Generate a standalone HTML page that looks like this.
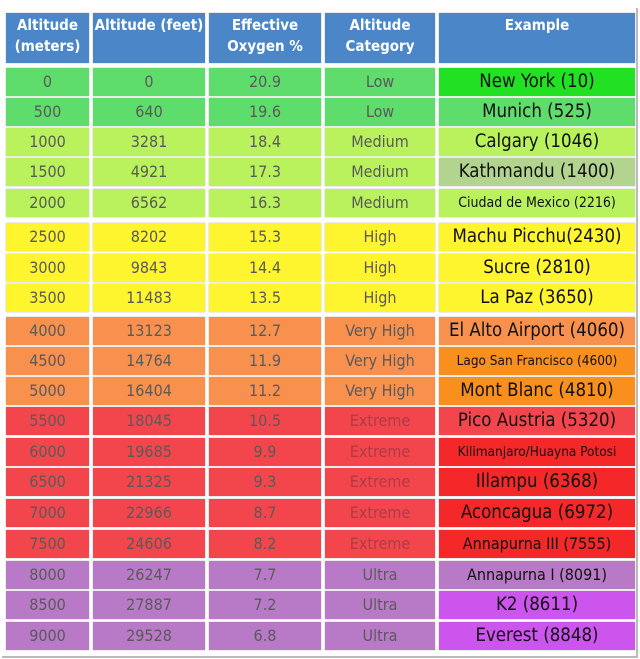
<!DOCTYPE html>
<html><head><meta charset="utf-8"><style>
body{margin:0;width:640px;height:659px;background:#fff;position:relative;overflow:hidden;font-family:"DejaVu Sans Condensed","Liberation Sans",sans-serif}
.frame{position:absolute;left:2px;top:8px;width:634px;height:648px;border-right:2px solid #bbb;border-bottom:2px solid #bbb}
.r{position:absolute;left:6px;height:28px}
.c{position:absolute;top:0;height:28px;line-height:28px;text-align:center;font-size:16px;color:#5a5a5a;box-shadow:0 0 1px #999}
.c1{left:0;width:83px}.c2{left:87px;width:112px}.c3{left:203px;width:112px}.c4{left:319px;width:110px}.c5{left:433px;width:196px;color:#111;font-size:18.5px}
.h .c{background:#4a86c8;color:#fff;font-weight:bold;font-size:15px;line-height:21px;height:50px;padding-top:2px;box-sizing:border-box}
.g .c{background:#5edc6c}.m .c{background:#b9f25c}.y .c{background:#fff52e}.o .c{background:#f8904e}.x .c{background:#f2464c}.p .c{background:#b87ac6}
.x .c4{color:#b03a46}
</style></head><body>
<div class="frame"></div>
<div class="r h" style="top:13px"><div class="c c1">Altitude<br>(meters)</div><div class="c c2">Altitude (feet)</div><div class="c c3">Effective<br>Oxygen %</div><div class="c c4">Altitude<br>Category</div><div class="c c5" style="font-size:15px;color:#fff">Example</div></div>
<div class="r g" style="top:68px"><div class="c c1">0</div><div class="c c2">0</div><div class="c c3">20.9</div><div class="c c4">Low</div><div class="c c5" style="background:#22e022">New York (10)</div></div>
<div class="r g" style="top:98px"><div class="c c1">500</div><div class="c c2">640</div><div class="c c3">19.6</div><div class="c c4">Low</div><div class="c c5">Munich (525)</div></div>
<div class="r m" style="top:128px"><div class="c c1">1000</div><div class="c c2">3281</div><div class="c c3">18.4</div><div class="c c4">Medium</div><div class="c c5">Calgary (1046)</div></div>
<div class="r m" style="top:158px"><div class="c c1">1500</div><div class="c c2">4921</div><div class="c c3">17.3</div><div class="c c4">Medium</div><div class="c c5" style="background:#b3d48e">Kathmandu (1400)</div></div>
<div class="r m" style="top:189px"><div class="c c1">2000</div><div class="c c2">6562</div><div class="c c3">16.3</div><div class="c c4">Medium</div><div class="c c5" style="font-size:14px">Ciudad de Mexico (2216)</div></div>
<div class="r y" style="top:223px"><div class="c c1">2500</div><div class="c c2">8202</div><div class="c c3">15.3</div><div class="c c4">High</div><div class="c c5">Machu Picchu(2430)</div></div>
<div class="r y" style="top:254px"><div class="c c1">3000</div><div class="c c2">9843</div><div class="c c3">14.4</div><div class="c c4">High</div><div class="c c5">Sucre (2810)</div></div>
<div class="r y" style="top:284px"><div class="c c1">3500</div><div class="c c2">11483</div><div class="c c3">13.5</div><div class="c c4">High</div><div class="c c5">La Paz (3650)</div></div>
<div class="r o" style="top:317px"><div class="c c1">4000</div><div class="c c2">13123</div><div class="c c3">12.7</div><div class="c c4">Very High</div><div class="c c5">El Alto Airport (4060)</div></div>
<div class="r o" style="top:347px"><div class="c c1">4500</div><div class="c c2">14764</div><div class="c c3">11.9</div><div class="c c4">Very High</div><div class="c c5" style="background:#f9901e;font-size:13.5px">Lago San Francisco (4600)</div></div>
<div class="r o" style="top:377px"><div class="c c1">5000</div><div class="c c2">16404</div><div class="c c3">11.2</div><div class="c c4">Very High</div><div class="c c5" style="background:#f9901e">Mont Blanc (4810)</div></div>
<div class="r x" style="top:407px"><div class="c c1">5500</div><div class="c c2">18045</div><div class="c c3">10.5</div><div class="c c4">Extreme</div><div class="c c5">Pico Austria (5320)</div></div>
<div class="r x" style="top:438px"><div class="c c1">6000</div><div class="c c2">19685</div><div class="c c3">9.9</div><div class="c c4">Extreme</div><div class="c c5" style="background:#f42828;font-size:13.5px">Kilimanjaro/Huayna Potosi</div></div>
<div class="r x" style="top:468px"><div class="c c1">6500</div><div class="c c2">21325</div><div class="c c3">9.3</div><div class="c c4">Extreme</div><div class="c c5" style="background:#f42828">Illampu (6368)</div></div>
<div class="r x" style="top:499px"><div class="c c1">7000</div><div class="c c2">22966</div><div class="c c3">8.7</div><div class="c c4">Extreme</div><div class="c c5" style="background:#f42828">Aconcagua (6972)</div></div>
<div class="r x" style="top:530px"><div class="c c1">7500</div><div class="c c2">24606</div><div class="c c3">8.2</div><div class="c c4">Extreme</div><div class="c c5" style="background:#f42828;font-size:16px">Annapurna III (7555)</div></div>
<div class="r p" style="top:561px"><div class="c c1">8000</div><div class="c c2">26247</div><div class="c c3">7.7</div><div class="c c4">Ultra</div><div class="c c5" style="font-size:16px">Annapurna I (8091)</div></div>
<div class="r p" style="top:591px"><div class="c c1">8500</div><div class="c c2">27887</div><div class="c c3">7.2</div><div class="c c4">Ultra</div><div class="c c5" style="background:#cc55ee">K2 (8611)</div></div>
<div class="r p" style="top:622px"><div class="c c1">9000</div><div class="c c2">29528</div><div class="c c3">6.8</div><div class="c c4">Ultra</div><div class="c c5" style="background:#cc55ee">Everest (8848)</div></div>
</body></html>
